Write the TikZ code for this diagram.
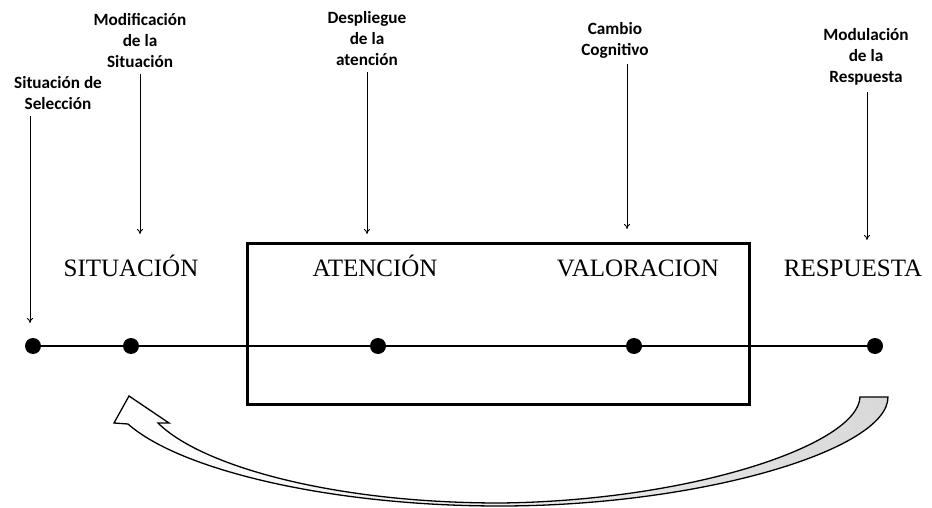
\documentclass[tikz,border=0pt]{standalone}
\usepackage{fontspec}
\setmainfont{Liberation Serif}
\newfontfamily\lblfont{Carlito}
\usetikzlibrary{arrows.meta}
\begin{document}
\begin{tikzpicture}[x=1pt,y=-1pt,
  dot/.style={circle,fill=black,inner sep=0pt,minimum size=16pt},
  big/.style={font=\fontsize{25}{30}\selectfont, inner sep=0pt, anchor=base},
  small/.style={font=\lblfont\bfseries\fontsize{17.2}{21}\selectfont, align=center, inner sep=0pt},
  pointer/.style={line width=0.8pt, -{To[length=5pt,width=6pt]}, shorten <=6pt},
  mainline/.style={line width=2.6pt},
  bigarrow/.style={line width=1.3pt, line join=miter, left color=white, middle color=white, right color=gray!30}]
\useasboundingbox (0,0) rectangle (932,508);

% box
\node[draw, line width=3pt, minimum width=502pt, minimum height=161pt, inner sep=0pt] (box) at (498,323.5) {};

% dots
\node[dot] (d1) at (33,346) {};
\node[dot] (d2) at (131,346) {};
\node[dot] (d3) at (378,346) {};
\node[dot] (d4) at (634,346) {};
\node[dot] (d5) at (875,346) {};
\draw[mainline] (d1.center) -- (d5.center);

% big labels
\node[big] (sit) at (131,276) {SITUACIÓN};
\node[big] (ate) at (375,276) {ATENCIÓN};
\node[big] (val) at (638,276) {VALORACION};
\node[big] (res) at (853,276) {RESPUESTA};

% small labels
\node[small] (l1) at (58,93) {Situación de\\Selección};
\node[small] (l2) at (140,41) {Modificación\\de la\\Situación};
\node[small] (l3) at (367,39) {Despliegue\\de la\\atención};
\node[small] (l4) at (615,40) {Cambio\\Cognitivo};
\node[small] (l5) at (866,57) {Modulación\\de la\\Respuesta};

% arrow tips
\coordinate (t1) at (30,323);
\coordinate (t2) at (140,234);
\coordinate (t3) at (367,234);
\coordinate (t4) at (627,229);
\coordinate (t5) at (867,240);

\draw[pointer] (l1.south -| t1) -- (t1);
\draw[pointer] (l2.south -| t2) -- (t2);
\draw[pointer] (l3.south -| t3) -- (t3);
\draw[pointer] (l4.south -| t4) -- (t4);
\draw[pointer] (l5.south -| t5) -- (t5);

% curved feedback arrow
\draw[bigarrow]
 (860,397) -- (888,397)
 .. controls (888,450) and (700,506) .. (500,506)
 .. controls (330,506) and (180,470) .. (128,424)
 -- (114,423) -- (129,396) -- (169,423) -- (158,423)
 .. controls (200,465) and (330,503) .. (500,503)
 .. controls (690,501) and (858,445) .. (860,397) -- cycle;
\end{tikzpicture}
\end{document}
